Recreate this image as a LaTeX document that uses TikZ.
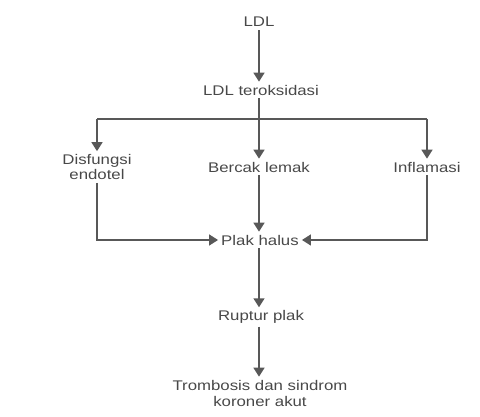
\documentclass[tikz,border=0pt]{standalone}
\usepackage{fontspec}
\setmainfont{Liberation Sans}[FakeStretch=1.2]
\usetikzlibrary{positioning,arrows.meta}
\definecolor{colorline}{RGB}{88,88,88}
\definecolor{colortext}{RGB}{72,72,72}

\begin{document}
\begin{tikzpicture}[
    x=1pt,y=-1pt,
    font={\fontsize{14}{16}\selectfont},
    txt/.style={text=colortext,inner sep=3pt,align=center},
    flow/.style={-{Triangle[width=11pt,length=9pt]},line width=1.5pt,color=colorline},
    bar/.style={line width=1.5pt,color=colorline}
]
    \useasboundingbox (0,0) rectangle (480,417);

    \node[txt] (ldl) at (259,22) {LDL};
    \node[txt] (oks) at (261,90) {LDL teroksidasi};

    \node[txt,font={\fontsize{14}{15}\selectfont}] (disf) at (97,167) {Disfungsi\\endotel};
    \node[txt] (bercak) at (259,167) {Bercak lemak};
    \node[txt] (infl) at (427,167) {Inflamasi};

    \node[txt] (plak) at (260,240) {Plak halus};
    \node[txt] (ruptur) at (261,317) {Ruptur plak};
    \node[txt] (tromb) at (260,393) {Trombosis dan sindrom\\koroner akut};

    \coordinate (split) at (259,119);

    \draw[flow] (ldl.south -| split) -- (oks.north -| split);
    \draw[flow] (oks.south -| split) -- (bercak.north -| split);
    \draw[bar] (split -| disf) -- (split -| infl);
    \draw[flow] (split -| disf) -- (disf);
    \draw[flow] (split -| infl) -- (infl);

    \draw[flow] (disf) |- (plak);
    \draw[flow] (infl) |- (plak);
    \draw[flow] (bercak.south -| split) -- (plak.north -| split);

    \draw[flow] (plak.south -| split) -- (ruptur.north -| split);
    \draw[flow] (ruptur.south -| split) -- (tromb.north -| split);

\end{tikzpicture}
\end{document}
